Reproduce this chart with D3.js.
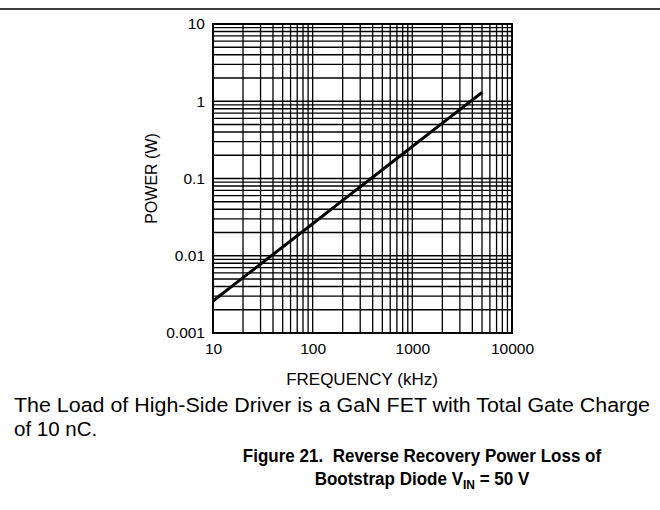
<!DOCTYPE html>
<html>
<head>
<meta charset="utf-8">
<script src="https://cdn.jsdelivr.net/npm/d3@7"></script>
<style>
  body { margin: 0; background: #fff; }
  svg text { font-family: "Liberation Sans", Arial, sans-serif; fill: #000; }
</style>
</head>
<body>
<div id="chart"></div>
<script>
// 周波数 (kHz) と電力 (W)
const freqKHz = [10, 20, 50, 100, 200, 500, 1000, 2000, 5000];
const powerW = [0.0026, 0.0052, 0.013, 0.026, 0.052, 0.13, 0.26, 0.52, 1.3];
const xTickLabels = ['10', '100', '1000', '10000'];
const yTickLabels = ['0.001', '0.01', '0.1', '1', '10'];

const width = 660, height = 510;
const margin = { top: 24, right: 148, bottom: 177, left: 213 };

const svg = d3.select('#chart').append('svg')
  .attr('width', width)
  .attr('height', height);

// 上の区切り線
svg.append('line')
  .attr('x1', 0).attr('x2', width)
  .attr('y1', 9).attr('y2', 9)
  .attr('stroke', '#000').attr('stroke-width', 1.5);

const x = d3.scaleLog()
  .domain([10, 10000])
  .range([margin.left, width - margin.right]);

const y = d3.scaleLog()
  .domain([0.001, 10])
  .range([height - margin.bottom, margin.top]);

// グリッド (1〜9 の倍数)
const xGrid = [], yGrid = [];
for (let d = 10; d < 10000; d *= 10) for (let k = 1; k <= 9; k++) xGrid.push(d * k);
for (let d = 0.001; d < 9; d *= 10) for (let k = 1; k <= 9; k++) yGrid.push(d * k);

const grid = svg.append('g').attr('stroke', '#000').attr('stroke-width', 1.3);
grid.selectAll('.vx').data(xGrid).enter().append('line')
  .attr('x1', d => x(d)).attr('x2', d => x(d))
  .attr('y1', y(0.001)).attr('y2', y(10));
grid.selectAll('.hy').data(yGrid).enter().append('line')
  .attr('y1', d => y(d)).attr('y2', d => y(d))
  .attr('x1', x(10)).attr('x2', x(10000));

// 枠
svg.append('rect')
  .attr('x', x(10)).attr('y', y(10))
  .attr('width', x(10000) - x(10))
  .attr('height', y(0.001) - y(10))
  .attr('fill', 'none').attr('stroke', '#000').attr('stroke-width', 2);

// X軸
const xAxis = svg.append('g')
  .attr('transform', `translate(0,${y(0.001)})`)
  .call(d3.axisBottom(x).tickValues(xTickLabels.map(Number)).tickFormat(d => String(d)).tickSize(0).tickPadding(10));
xAxis.select('.domain').remove();
xAxis.selectAll('text').attr('font-size', 15.5).style('font-family', '"Liberation Sans", Arial, sans-serif');

// Y軸
const yAxis = svg.append('g')
  .attr('transform', `translate(${x(10)},0)`)
  .call(d3.axisLeft(y).tickValues(yTickLabels.map(Number)).tickFormat((d, i) => yTickLabels[i]).tickSize(0).tickPadding(8));
yAxis.select('.domain').remove();
yAxis.selectAll('text').attr('font-size', 15.5).style('font-family', '"Liberation Sans", Arial, sans-serif');

// データ線
const line = d3.line()
  .x((d, i) => x(freqKHz[i]))
  .y(d => y(d));
svg.append('path')
  .datum(powerW)
  .attr('d', line)
  .attr('fill', 'none')
  .attr('stroke', '#000')
  .attr('stroke-width', 3);

// 軸タイトル
svg.append('text')
  .attr('x', 362).attr('y', 385)
  .attr('text-anchor', 'middle').attr('font-size', 17)
  .text('FREQUENCY (kHz)');

svg.append('text')
  .attr('transform', `translate(157,${(y(0.001) + y(10)) / 2}) rotate(-90)`)
  .attr('text-anchor', 'middle').attr('font-size', 16)
  .text('POWER (W)');

// 注記
svg.append('text').attr('x', 14).attr('y', 412).attr('font-size', 20.5)
  .attr('textLength', 636).attr('lengthAdjust', 'spacingAndGlyphs')
  .text('The Load of High-Side Driver is a GaN FET with Total Gate Charge');
svg.append('text').attr('x', 14).attr('y', 436).attr('font-size', 20.5)
  .text('of 10 nC.');

// 図タイトル（横方向に少し詰める）
const title = svg.append('g')
  .attr('transform', 'translate(422,0) scale(0.92,1)');
title.append('text').attr('x', 0).attr('y', 462).attr('font-size', 18.5)
  .attr('font-weight', 'bold').attr('text-anchor', 'middle')
  .attr('xml:space', 'preserve')
  .text('Figure 21.  Reverse Recovery Power Loss of');
const t2 = title.append('text').attr('x', 0).attr('y', 485).attr('font-size', 18.5)
  .attr('font-weight', 'bold').attr('text-anchor', 'middle');
t2.append('tspan').text('Bootstrap Diode V');
t2.append('tspan').attr('font-size', 13).attr('dy', 4).text('IN');
t2.append('tspan').attr('dy', -4).text(' = 50 V');
</script>
</body>
</html>
